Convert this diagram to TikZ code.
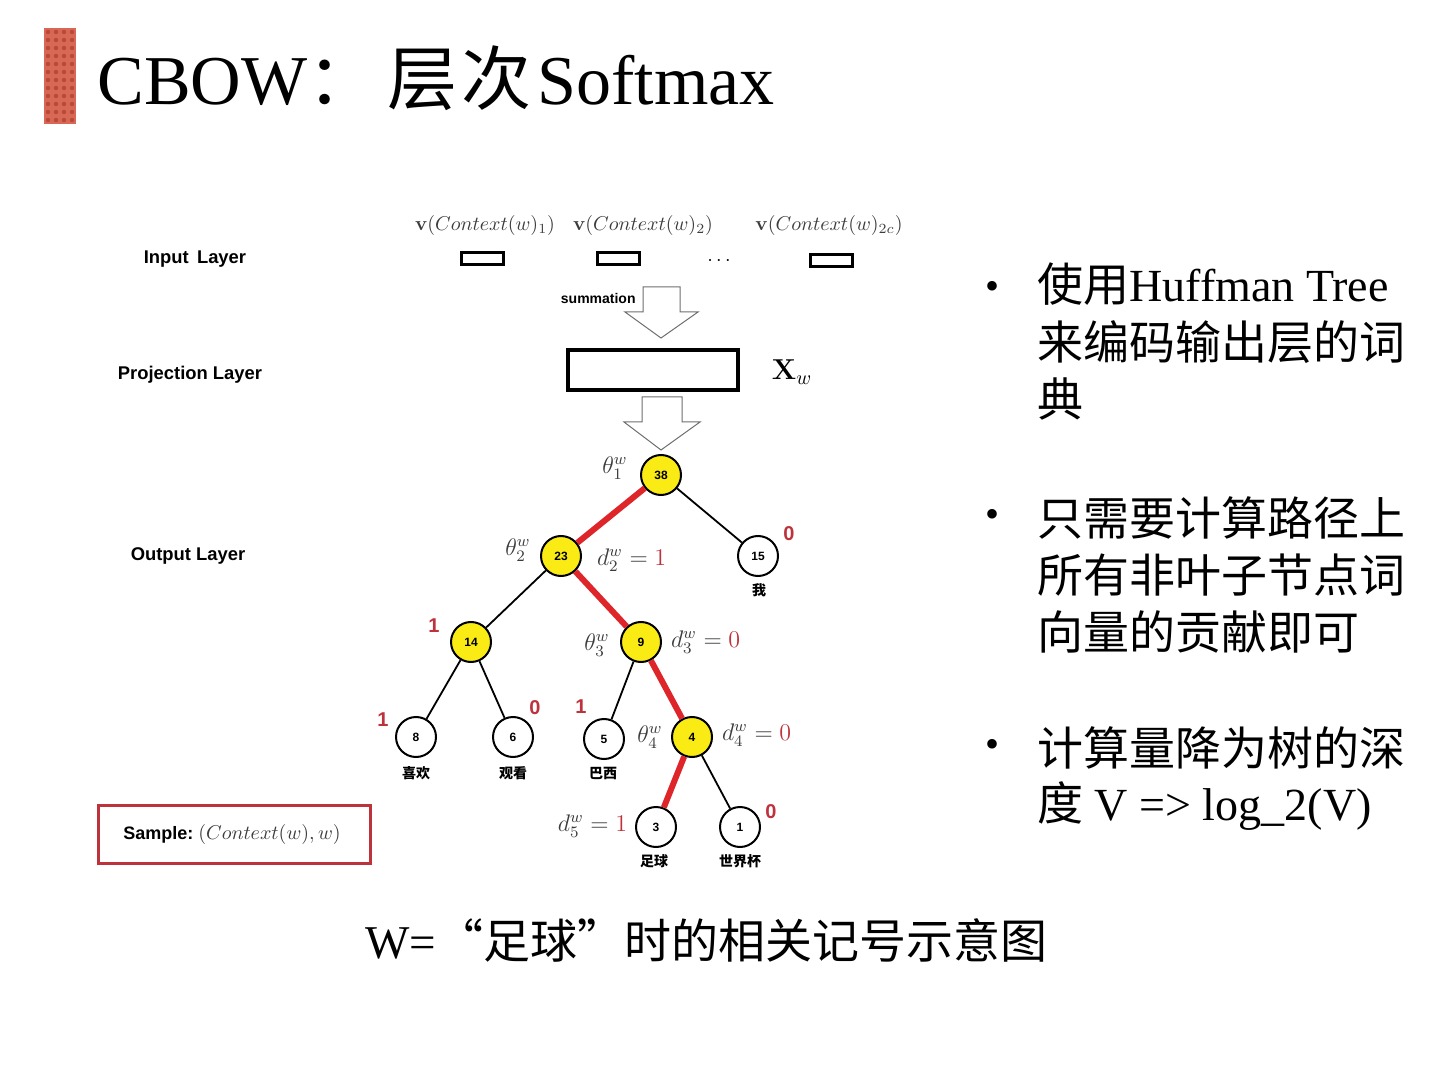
\documentclass[tikz,border=0pt]{standalone}
\usepackage[no-math]{fontspec}
\setmainfont{Liberation Serif}
\setsansfont{Liberation Sans}
\newfontfamily\cjk{Noto Sans CJK SC}
\definecolor{titlered}{RGB}{214,104,84}
\definecolor{titledot}{RGB}{188,72,58}
\definecolor{edgered}{RGB}{222,38,42}
\definecolor{bitred}{RGB}{190,50,60}
\definecolor{treeyellow}{RGB}{250,235,20}
\definecolor{mathgray}{RGB}{60,60,60}
\definecolor{arrowgray}{RGB}{110,110,110}
\begin{document}
\begin{tikzpicture}[x=0.5pt,y=-0.5pt,
  inner/.style={circle,draw,line width=1pt,minimum size=20pt,inner sep=0pt,fill=treeyellow,font=\sffamily\bfseries\fontsize{6}{6}\selectfont},
  leafnode/.style={circle,draw,line width=1pt,minimum size=20pt,inner sep=0pt,fill=white,font=\sffamily\bfseries\fontsize{6}{6}\selectfont},
  redge/.style={draw=edgered,line width=3pt},
  bedge/.style={draw=black,line width=0.9pt},
  bit/.style={text=bitred,inner sep=0.5pt,font=\sffamily\bfseries\fontsize{10}{10}\selectfont},
  lbl/.style={text=mathgray,inner sep=0.3pt,font=\fontsize{12}{12}\selectfont},
  leaflbl/.style={inner sep=0.5pt,font=\cjk\bfseries\fontsize{7}{7}\selectfont},
  layer/.style={font=\sffamily\bfseries\fontsize{9.2}{10}\selectfont},
  rt/.style={anchor=base west,inner sep=0pt,font=\fontsize{23}{23}\selectfont},
  bul/.style={font=\fontsize{20}{20}\selectfont},
  inbox/.style={draw,line width=1.5pt,minimum width=21pt,minimum height=6pt,inner sep=0pt},
  hollow/.style={draw=arrowgray,line width=0.5pt,fill=white}
]
\useasboundingbox (0,0) rectangle (1440,1080);
% title
\fill[titlered] (44,28) rectangle (76,124);
\foreach \yy in {32,40,...,120} {
  \foreach \xx in {48,56,...,72} {
    \fill[titledot] (\xx,\yy) circle (2.2);
  }
}
\node[anchor=base west,inner sep=0pt,font=\fontsize{35}{35}\selectfont] (title) at (97,105) {CBOW{\cjk ：\kern5pt 层\kern2pt 次}\kern3pt Softmax};

% layer labels
\node[layer] (inl) at (195,259) {Input\, Layer};
\node[layer] (prl) at (190,375) {Projection Layer};
\node[layer] (outl) at (188,556) {Output Layer};

% input vectors
\node[text=mathgray,font=\fontsize{10}{10}\selectfont] (v1) at (485,226) {$\mathbf{v}(Context(w)_1)$};
\node[text=mathgray,font=\fontsize{10}{10}\selectfont] (v2) at (643,226) {$\mathbf{v}(Context(w)_2)$};
\node[text=mathgray,font=\fontsize{10}{10}\selectfont] (v3) at (829,226) {$\mathbf{v}(Context(w)_{2c})$};
\node[inbox] (b1) at (482,259) {};
\node[inbox] (b2) at (618,259) {};
\node[inbox] (b3) at (831,261) {};
\node[font=\fontsize{10}{10}\selectfont] (dots) at (719,261) {$\cdots$};

% summation arrow
\draw[hollow] (643,287) -- (680,287) -- (680,312) -- (698,312) -- (661,338) -- (625,312) -- (643,312) -- cycle;
\node[font=\sffamily\bfseries\fontsize{7}{7}\selectfont,anchor=east,inner sep=0pt] (sum) at (636,298) {summation};

% projection box
\node[draw,line width=1.6pt,minimum width=85pt,minimum height=20pt,inner sep=0pt] (proj) at (653,370) {};
\node[font=\fontsize{14}{14}\selectfont] (xw) at (792,372) {$\mathbf{X}_w$};

% second arrow
\draw[hollow] (642,397) -- (682,397) -- (682,422) -- (700,422) -- (661,450) -- (624,422) -- (642,422) -- cycle;

% tree
\node[inner] (n38) at (661,475) {38};
\node[inner] (n23) at (561,556) {23};
\node[leafnode] (n15) at (758,556) {15};
\node[inner] (n14) at (471,642) {14};
\node[inner] (n9) at (641,642) {9};
\node[leafnode] (n8) at (416,737) {8};
\node[leafnode] (n6) at (513,737) {6};
\node[leafnode] (n5) at (604,739) {5};
\node[inner] (n4) at (692,737) {4};
\node[leafnode] (n3) at (656,827) {3};
\node[leafnode] (n1) at (740,827) {1};

\draw[redge] (n38) -- (n23);
\draw[bedge] (n38) -- (n15);
\draw[bedge] (n23) -- (n14);
\draw[redge] (n23) -- (n9);
\draw[bedge] (n14) -- (n8);
\draw[bedge] (n14) -- (n6);
\draw[bedge] (n9) -- (n5);
\draw[redge] (n9) -- (n4);
\draw[redge] (n4) -- (n3);
\draw[bedge] (n4) -- (n1);

% math labels
\node[lbl] (t1) at (615,468) {$\theta_1^w$};
\node[lbl] (t2) at (518,550) {$\theta_2^w$};
\node[lbl,anchor=west] (d2) at (596,560) {$d_2^w = {\color{bitred}1}$};
\node[lbl] (t3) at (597,645) {$\theta_3^w$};
\node[lbl,anchor=west] (d3) at (670,642) {$d_3^w = {\color{bitred}0}$};
\node[lbl] (t4) at (650,737) {$\theta_4^w$};
\node[lbl,anchor=west] (d4) at (721,735) {$d_4^w = {\color{bitred}0}$};
\node[lbl,anchor=east] (d5) at (628,826) {$d_5^w = {\color{bitred}1}$};

% bits
\node[bit] (b0a) at (789,534) {0};
\node[bit] (b1a) at (434,626) {1};
\node[bit] (b1b) at (383,720) {1};
\node[bit] (b0b) at (535,708) {0};
\node[bit] (b1c) at (581,707) {1};
\node[bit] (b0c) at (771,812) {0};

% leaf words
\node[leaflbl] (w15) at (759,590) {我};
\node[leaflbl] (w8) at (416,773) {喜欢};
\node[leaflbl] (w6) at (513,773) {观看};
\node[leaflbl] (w5) at (603,773) {巴西};
\node[leaflbl] (w3) at (654,861) {足球};
\node[leaflbl] (w1) at (740,861) {世界杯};

% sample box
\node[draw=bitred,line width=1.5pt,minimum width=136pt,minimum height=29pt,inner sep=0pt] (samp) at (234,834) {};
\node (samptxt) at (232,834) {\sffamily\bfseries\fontsize{9}{9}\selectfont Sample:\ {\color{mathgray}\fontsize{10}{10}\selectfont$(Context(w),w)$}};

% right text
\node[bul] (bu1) at (992,290) {\textbullet};
\node[rt] (r11) at (1037,302) {{\cjk 使用}Huffman Tree};
\node[rt] (r12) at (1037,360) {\cjk 来编码输出层的词};
\node[rt] (r13) at (1037,417) {\cjk 典};
\node[bul] (bu2) at (992,518) {\textbullet};
\node[rt] (r21) at (1037,535) {\cjk 只需要计算路径上};
\node[rt] (r22) at (1037,592) {\cjk 所有非叶子节点词};
\node[rt] (r23) at (1037,649) {\cjk 向量的贡献即可};
\node[bul] (bu3) at (992,748) {\textbullet};
\node[rt] (r31) at (1037,765) {\cjk 计算量降为树的深};
\node[rt] (r32) at (1037,820) {{\cjk 度} V => log\_2(V)};

% caption
\node[rt,font=\fontsize{23.5}{23.5}\selectfont] (cap) at (365,958) {W={\cjk “足球”时的相关记号示意图}};
\end{tikzpicture}
\end{document}
